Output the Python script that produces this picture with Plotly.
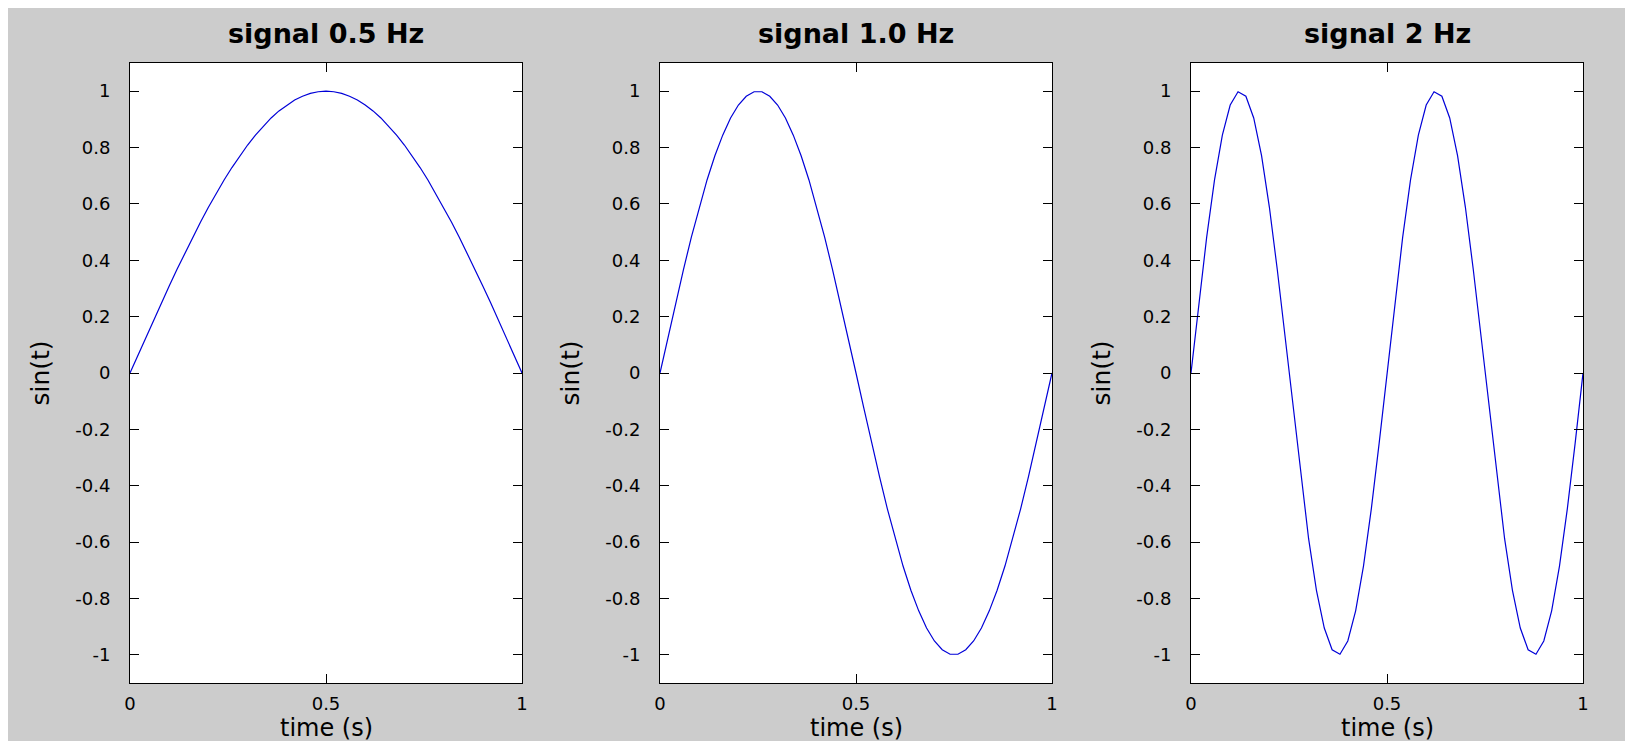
import plotly.graph_objects as go
from plotly.subplots import make_subplots

# ---- data ----
time_s = [round(0.02 * k, 2) for k in range(51)]

signal_05hz = [0.000, 0.063, 0.125, 0.187, 0.249, 0.309, 0.368, 0.426, 0.482, 0.536,
               0.588, 0.637, 0.685, 0.729, 0.771, 0.809, 0.844, 0.876, 0.905, 0.930,
               0.951, 0.969, 0.982, 0.992, 0.998, 1.000, 0.998, 0.992, 0.982, 0.969,
               0.951, 0.930, 0.905, 0.876, 0.844, 0.809, 0.771, 0.729, 0.685, 0.637,
               0.588, 0.536, 0.482, 0.426, 0.368, 0.309, 0.249, 0.187, 0.125, 0.063,
               0.000]

signal_1hz = [0.000, 0.125, 0.249, 0.368, 0.482, 0.588, 0.685, 0.771, 0.844, 0.905,
              0.951, 0.982, 0.998, 0.998, 0.982, 0.951, 0.905, 0.844, 0.771, 0.685,
              0.588, 0.482, 0.368, 0.249, 0.125, 0.000, -0.125, -0.249, -0.368, -0.482,
              -0.588, -0.685, -0.771, -0.844, -0.905, -0.951, -0.982, -0.998, -0.998, -0.982,
              -0.951, -0.905, -0.844, -0.771, -0.685, -0.588, -0.482, -0.368, -0.249, -0.125,
              0.000]

signal_2hz = [0.000, 0.249, 0.482, 0.685, 0.844, 0.951, 0.998, 0.982, 0.905, 0.771,
              0.588, 0.368, 0.125, -0.125, -0.368, -0.588, -0.771, -0.905, -0.982, -0.998,
              -0.951, -0.844, -0.685, -0.482, -0.249, 0.000, 0.249, 0.482, 0.685, 0.844,
              0.951, 0.998, 0.982, 0.905, 0.771, 0.588, 0.368, 0.125, -0.125, -0.368,
              -0.588, -0.771, -0.905, -0.982, -0.998, -0.951, -0.844, -0.685, -0.482, -0.249,
              0.000]

titles = ["signal 0.5 Hz", "signal 1.0 Hz", "signal 2 Hz"]
series = [signal_05hz, signal_1hz, signal_2hz]

x_tickvals = [0, 0.5, 1]
x_ticktext = ["0", "0.5", "1"]
y_tickvals = [-1, -0.8, -0.6, -0.4, -0.2, 0, 0.2, 0.4, 0.6, 0.8, 1]
y_ticktext = ["-1", "-0.8", "-0.6", "-0.4", "-0.2", "0", "0.2", "0.4", "0.6", "0.8", "1"]

x_label = "time (s)"
y_label = "sin(t)"

# ---- figure ----
W, H = 1633, 741
ML, MR, MT, MB = 122, 58, 55, 66
plot_w = W - ML - MR
plot_h = H - MT - MB
domains = [
    [0.0, 392 / plot_w],
    [(652 - ML) / plot_w, (1044 - ML) / plot_w],
    [(1183 - ML) / plot_w, 1.0],
]

fig = make_subplots(rows=1, cols=3)

FONT = "DejaVu Sans"
for i, (ys, dom) in enumerate(zip(series, domains)):
    fig.add_trace(
        go.Scatter(x=time_s, y=ys, mode="lines",
                   line=dict(color="#0000d8", width=1.2),
                   showlegend=False, hoverinfo="skip"),
        row=1, col=i + 1,
    )
    fig.update_xaxes(
        row=1, col=i + 1, domain=dom, range=[0, 1],
        tickvals=x_tickvals, ticktext=x_ticktext,
        ticks="inside", ticklen=9, tickwidth=1, tickcolor="black",
        showline=True, linecolor="black", linewidth=1, mirror="ticks",
        showgrid=False, zeroline=False,
        tickfont=dict(family=FONT, size=18, color="black"),
        ticklabelstandoff=4,
    )
    fig.update_yaxes(
        row=1, col=i + 1, range=[-1.1, 1.1],
        tickvals=y_tickvals, ticktext=y_ticktext,
        ticks="inside", ticklen=9, tickwidth=1, tickcolor="black",
        showline=True, linecolor="black", linewidth=1, mirror="ticks",
        showgrid=False, zeroline=False,
        tickfont=dict(family=FONT, size=18, color="black"),
        ticklabelstandoff=15,
        title=dict(text=y_label, font=dict(family=FONT, size=25, color="black"),
                   standoff=18),
    )
    fig.add_annotation(
        text="<b>" + titles[i] + "</b>", xref="paper", yref="paper",
        x=(dom[0] + dom[1]) / 2, y=1 + 30 / plot_h, xanchor="center", yanchor="middle",
        showarrow=False, font=dict(family=FONT, size=27, color="black"),
    )
    fig.add_annotation(
        text=x_label, xref="paper", yref="paper",
        x=(dom[0] + dom[1]) / 2, y=-45 / plot_h, xanchor="center", yanchor="middle",
        showarrow=False, font=dict(family=FONT, size=24, color="black"),
    )

fig.update_layout(
    width=W, height=H,
    margin=dict(l=ML, r=MR, t=MT, b=MB),
    paper_bgcolor="#cccccc",
    plot_bgcolor="white",
)

fig.write_html("out.html")
